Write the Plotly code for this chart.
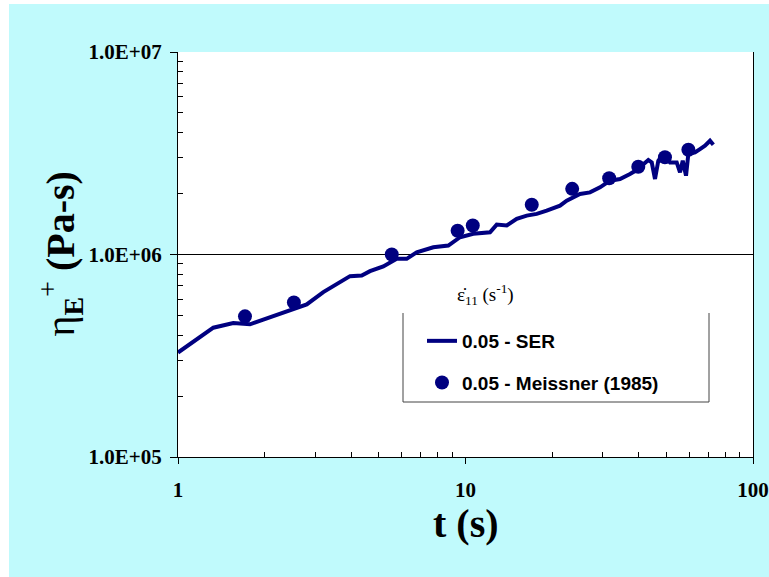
import plotly.graph_objects as go

# SER curve, eta_E+ (Pa-s) vs t (s)
ser_t = [1.0, 1.327, 1.557, 1.780, 1.980, 2.324, 2.587, 2.804, 3.202, 3.565, 3.966, 4.355,
         4.654, 5.178, 5.764, 6.245, 6.766, 7.727, 8.714, 9.57, 10.64, 12.17, 12.84, 13.91,
         15.07, 16.33, 17.69, 19.16, 21.32, 22.49, 23.71, 25.02, 27.10, 29.37, 31.82, 34.47,
         37.35, 39.40, 43.24, 44.44, 45.62, 46.84, 48.75, 51.45, 54.28, 55.74, 56.96, 58.48,
         59.57, 62.84, 65.41, 68.08, 70.87, 72.78]
ser_eta = [3.28e5, 4.35e5, 4.59e5, 4.52e5, 4.77e5, 5.16e5, 5.46e5, 5.67e5, 6.52e5, 7.17e5,
           7.82e5, 7.88e5, 8.27e5, 8.73e5, 9.52e5, 9.52e5, 1.026e6, 1.086e6, 1.107e6, 1.217e6,
           1.265e6, 1.288e6, 1.405e6, 1.390e6, 1.499e6, 1.556e6, 1.587e6, 1.647e6, 1.743e6,
           1.845e6, 1.916e6, 1.991e6, 2.027e6, 2.145e6, 2.315e6, 2.360e6, 2.498e6, 2.613e6,
           2.928e6, 2.849e6, 2.360e6, 2.905e6, 3.134e6, 2.849e6, 2.849e6, 2.544e6, 2.905e6,
           2.450e6, 3.134e6, 3.19e6, 3.317e6, 3.443e6, 3.644e6, 3.483e6]

# Meissner (1985) data
mei_t = [1.71, 2.53, 5.54, 9.39, 10.6, 17.0, 23.5, 31.6, 39.9, 49.4, 59.6]
mei_eta = [4.95e5, 5.8e5, 1.0e6, 1.31e6, 1.39e6, 1.76e6, 2.11e6, 2.38e6, 2.71e6, 3.02e6, 3.29e6]

x_tickvals = [1, 10, 100]
x_ticktext = ["1", "10", "100"]
y_tickvals = [1e5, 1e6, 1e7]
y_ticktext = ["1.0E+05", "1.0E+06", "1.0E+07"]
x_minor = [m * d for d in (1, 10) for m in range(2, 10)]
y_minor = [m * d for d in (1e5, 1e6) for m in range(2, 10)]

NAVY = "#000080"
CYAN = "#C0FAFC"
SERIF = "Liberation Serif"

fig = go.Figure()
fig.add_trace(go.Scatter(x=ser_t, y=ser_eta, mode="lines", name="0.05 - SER",
                         line=dict(color=NAVY, width=4), legendgroup="a"))
fig.add_trace(go.Scatter(x=mei_t, y=mei_eta, mode="markers", name="0.05 - Meissner (1985)",
                         marker=dict(color=NAVY, size=14), legendgroup="b"))

axis_font = dict(family=SERIF, size=21, color="black", weight="bold")

fig.update_xaxes(type="log", range=[0, 2], tickvals=x_tickvals, ticktext=x_ticktext,
                 showgrid=False, zeroline=False, showline=True, linecolor="black", linewidth=1,
                 ticks="outside", ticklen=6, tickcolor="black", tickfont=axis_font,
                 ticklabelstandoff=8, automargin=False,
                 minor=dict(tickvals=x_minor, ticks="inside", ticklen=5, tickcolor="black",
                            showgrid=False))
fig.update_yaxes(type="log", range=[5, 7], tickvals=y_tickvals, ticktext=y_ticktext,
                 showgrid=False, zeroline=False, showline=True, mirror=True,
                 linecolor="black", linewidth=1,
                 ticks="outside", ticklen=7, tickcolor="black", tickfont=axis_font,
                 ticklabelstandoff=4, automargin=False,
                 minor=dict(tickvals=y_minor, ticks="inside", ticklen=5, tickcolor="black",
                            showgrid=False))

L, R, T, B, W, H = 178, 16, 52, 120, 769, 577
pw, ph = W - L - R, H - T - B
def px(x):
    return (x - L) / pw
def py(y):
    return (H - B - y) / ph

shapes = [
    # white strips outside the cyan page
    dict(type="rect", xref="paper", yref="paper", x0=px(-2), x1=px(9), y0=py(H + 2), y1=py(-2),
         fillcolor="white", line_width=0, layer="below"),
    dict(type="rect", xref="paper", yref="paper", x0=px(-2), x1=px(W + 2), y0=py(4), y1=py(-2),
         fillcolor="white", line_width=0, layer="below"),
    # gridline at 1.0E+06
    dict(type="line", xref="paper", yref="paper", x0=0, x1=1, y0=0.5, y1=0.5,
         line=dict(color="black", width=1), layer="below"),
    # legend frame (left, right, bottom)
    dict(type="line", xref="paper", yref="paper", x0=px(403), x1=px(403), y0=py(313), y1=py(402),
         line=dict(color="#444444", width=1)),
    dict(type="line", xref="paper", yref="paper", x0=px(709), x1=px(709), y0=py(313), y1=py(402),
         line=dict(color="#444444", width=1)),
    dict(type="line", xref="paper", yref="paper", x0=px(403), x1=px(709), y0=py(402), y1=py(402),
         line=dict(color="#444444", width=1)),
]

annotations = [
    dict(text="<b>t (s)</b>", xref="paper", yref="paper", x=0.5, y=py(523),
         xanchor="center", yanchor="middle", showarrow=False,
         font=dict(family=SERIF, size=40, color="black")),
    dict(text="η<sub><b>E</b></sub><sup>+</sup> <b>(Pa-s)</b>", xref="paper", yref="paper",
         x=px(60), y=0.5, xanchor="center", yanchor="middle", textangle=-90, showarrow=False,
         font=dict(family=SERIF, size=40, color="black")),
    dict(text="ε̇<sub>11</sub> (s<sup>-1</sup>)", xref="paper", yref="paper",
         x=px(485), y=py(294), xanchor="center", yanchor="middle", showarrow=False,
         font=dict(family=SERIF, size=19, color="black")),
]

fig.update_layout(
    width=W, height=H, autosize=False,
    margin=dict(l=L, r=R, t=T, b=B, pad=0, autoexpand=False),
    paper_bgcolor=CYAN, plot_bgcolor="white",
    showlegend=True,
    legend=dict(x=px(422), y=py(322), xanchor="left", yanchor="top",
                bgcolor="rgba(0,0,0,0)", borderwidth=0, tracegroupgap=14,
                font=dict(family="Liberation Sans", size=19, color="black", weight="bold"),
                itemwidth=30),
    shapes=shapes, annotations=annotations,
)

fig.write_html("out.html")
